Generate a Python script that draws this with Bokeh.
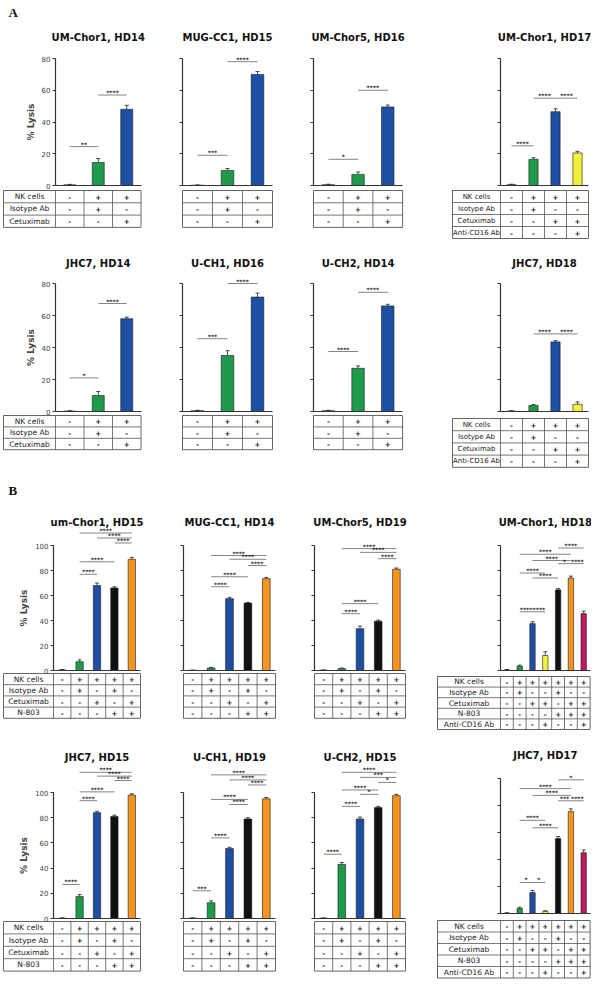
from bokeh.plotting import figure
from bokeh.models import ColumnDataSource, Whisker, TeeHead, FixedTicker, Spacer
from bokeh.layouts import row, column
from bokeh.embed import file_html
from bokeh.resources import INLINE
from bokeh.core.properties import value

# ---------------- colours ----------------
DARK = "#2b2b2b"
GREEN = "#1f9a4a"
BLUE = "#1d4fa3"
BLACK = "#111111"
ORANGE = "#f39322"
YELLOW = "#f4ee3c"
MAGENTA = "#c1175c"

COLORS_A3 = [DARK, GREEN, BLUE]
COLORS_A4 = [DARK, GREEN, BLUE, YELLOW]
COLORS_B5 = [DARK, GREEN, BLUE, BLACK, ORANGE]
COLORS_B7 = [DARK, GREEN, BLUE, YELLOW, BLACK, ORANGE, MAGENTA]

# ---------------- table definitions ----------------
LABELS_A3 = ["NK cells", "Isotype Ab", "Cetuximab"]
LABELS_A4 = ["NK cells", "Isotype Ab", "Cetuximab", "Anti-CD16 Ab"]
LABELS_B4 = ["NK cells", "Isotype Ab", "Cetuximab", "N-803"]
LABELS_B5 = ["NK cells", "Isotype Ab", "Cetuximab", "N-803", "Anti-CD16 Ab"]

SIGNS_A3 = [["-", "+", "+"], ["-", "+", "-"], ["-", "-", "+"]]
SIGNS_A4 = [["-", "+", "+", "+"], ["-", "+", "-", "-"], ["-", "-", "+", "+"], ["-", "-", "-", "+"]]
SIGNS_B4 = [["-", "+", "+", "+", "+"], ["-", "+", "-", "+", "-"], ["-", "-", "+", "-", "+"],
            ["-", "-", "-", "+", "+"]]
SIGNS_B5 = [["-", "+", "+", "+", "+", "+", "+"], ["-", "+", "-", "-", "+", "-", "-"],
            ["-", "-", "+", "+", "-", "+", "+"], ["-", "-", "-", "-", "+", "+", "+"],
            ["-", "-", "-", "+", "-", "-", "+"]]

# ---------------- panel data (% lysis) ----------------
A1_TITLES = ["UM-Chor1, HD14", "MUG-CC1, HD15", "UM-Chor5, HD16", "UM-Chor1, HD17"]
A1_VALUES = [[0.4, 14.5, 48], [0.2, 9.5, 70], [0.5, 7, 49.5], [0.5, 16.5, 46.5, 20.5]]
A1_ERRORS = [[0.3, 2.5, 2.5], [0.2, 1.2, 1.8], [0.3, 1.5, 1.2], [0.3, 1.0, 1.8, 1.0]]
A1_SIGS = [[(1, 2, 24.5, "**"), (2, 3, 57, "****")],
           [(1, 2, 19, "***"), (2, 3, 78, "****")],
           [(1, 2, 16.5, "*"), (2, 3, 60, "****")],
           [(1, 2, 25, "****"), (2, 3, 55, "****"), (3, 4, 55, "****")]]

A2_TITLES = ["JHC7, HD14", "U-CH1, HD16", "U-CH2, HD14", "JHC7, HD18"]
A2_VALUES = [[0.3, 10, 58], [0.5, 35, 71.5], [0.5, 27, 66], [0.3, 3.8, 43.5, 4.5]]
A2_ERRORS = [[0.2, 2.5, 1.0], [0.3, 3.0, 2.5], [0.3, 1.5, 1.0], [0.2, 0.5, 0.8, 1.5]]
A2_SIGS = [[(1, 2, 21, "*"), (2, 3, 67.5, "****")],
           [(1, 2, 45.5, "***"), (2, 3, 80, "****")],
           [(1, 2, 37.5, "****"), (2, 3, 74.5, "****")],
           [(2, 3, 48.5, "****"), (3, 4, 48.5, "****")]]

B1_TITLES = ["um-Chor1, HD15", "MUG-CC1, HD14", "UM-Chor5, HD19", "UM-Chor1, HD18"]
B1_VALUES = [[0.5, 7, 68, 66, 89], [0.2, 2, 57.5, 54, 73.5], [0.3, 1.5, 33.5, 39.5, 81],
             [0.5, 3.5, 37.5, 12, 64.5, 74, 45.5]]
B1_ERRORS = [[0.3, 1.5, 2.0, 1.0, 1.5], [0.1, 0.5, 1.0, 0.5, 1.0], [0.2, 0.5, 2.0, 0.8, 1.0],
             [0.3, 0.8, 1.5, 3.0, 1.0, 1.5, 2.0]]
B1_SIGS = [[(2, 3, 77, "****"), (2, 4, 87, "****"), (2, 5, 110, "****"), (3, 5, 106, "****"),
            (4, 5, 102, "****")],
           [(2, 3, 67, "****"), (2, 4, 75, "****"), (2, 5, 92, "****"), (3, 5, 89, "****"),
            (4, 5, 84, "****")],
           [(2, 3, 45.5, "****"), (2, 4, 53.5, "****"), (2, 5, 97.5, "****"), (3, 5, 94.5, "****"),
            (4, 5, 89.5, "****")],
           [(2, 3, 47, "****"), (3, 4, 47, "****"), (2, 4, 78, "****"), (3, 5, 74, "****"),
            (2, 6, 93, "****"), (3, 6, 88, "****"), (5, 6, 85.5, "*"), (6, 7, 85.5, "****"),
            (5, 7, 98, "****")]]

B2_TITLES = ["JHC7, HD15", "U-CH1, HD19", "U-CH2, HD15", "JHC7, HD17"]
B2_VALUES = [[0.3, 17.5, 84, 81, 98], [0.3, 12.5, 55.5, 79, 95], [0.3, 43, 79, 88, 97.5],
             [0.3, 3.7, 15.5, 1.5, 55.5, 75.5, 45]]
B2_ERRORS = [[0.2, 1.5, 1.0, 1.0, 1.0], [0.2, 1.5, 1.0, 1.0, 1.0], [0.2, 1.5, 1.5, 1.0, 1.0],
             [0.2, 1.0, 1.5, 0.5, 1.5, 2.0, 2.0]]
B2_SIGS = [[(1, 2, 27, "****"), (2, 3, 93.5, "****"), (2, 4, 100.5, "****"), (2, 5, 116, "****"),
            (3, 5, 113, "****"), (4, 5, 109.5, "****")],
           [(1, 2, 22, "***"), (2, 3, 64, "****"), (2, 4, 94.5, "****"), (3, 4, 90.5, "****"),
            (2, 5, 114, "****"), (3, 5, 110, "****"), (4, 5, 106, "****")],
           [(1, 2, 51, "****"), (2, 3, 89, "****"), (2, 4, 102, "****"), (3, 4, 98.5, "*"),
            (2, 5, 116, "****"), (3, 5, 112, "***"), (4, 5, 108, "*")],
           [(2, 3, 23, "*"), (3, 4, 23, "*"), (2, 4, 69, "****"), (3, 5, 63.5, "****"),
            (2, 6, 92.5, "****"), (3, 6, 87.5, "****"), (5, 6, 83.5, "***"), (6, 7, 83.5, "****"),
            (5, 7, 99, "*")]]

FONT = "DejaVu Sans"
LINE = "#555555"


def make_panel(title, vals, errs, colors, sigs, labels, signs, g, show_labels, first, letter=None):
    n = len(vals)
    col = g["col"]
    lp = g["label"] if show_labels else g["left"]
    W = int(round(lp + n * col + g["right"]))
    H = int(round(g["bot"] - g["top"]))
    s = g["scale"]
    z = g["zero"]
    x0 = 0.5 - lp / col
    x1 = x0 + W / col
    y0 = -(g["bot"] - z) / s
    y1 = (z - g["top"]) / s
    p = figure(frame_width=W, frame_height=H, x_range=(x0, x1), y_range=(y0, y1),
               output_backend="svg", toolbar_location=None, tools="", min_border=0,
               outline_line_color=None, background_fill_color="white")
    p.grid.visible = False

    ticks = list(range(0, g["ymax"] + 1, 20))
    ya = p.yaxis[0]
    ya.fixed_location = 0.5
    ya.bounds = (0, g["ymax"])
    ya.axis_line_width = 1.2
    ya.axis_line_color = "#333333"
    if first:
        ya.ticker = FixedTicker(ticks=ticks)
        ya.minor_tick_line_color = None
        ya.major_tick_out = 3
        ya.major_tick_in = 0
        ya.major_tick_line_width = 1
        ya.major_tick_line_color = "#333333"
        ya.major_label_standoff = 2
        ya.major_label_text_font = FONT
        ya.major_label_text_font_size = "7px"
        ya.axis_label = "% Lysis"
        ya.axis_label_text_font = FONT
        ya.axis_label_text_font_style = "bold"
        ya.axis_label_text_font_size = "9px"
        ya.axis_label_standoff = 3
    else:
        ya.ticker = FixedTicker(ticks=[], minor_ticks=ticks)
        ya.major_tick_line_color = None
        ya.minor_tick_out = 3
        ya.minor_tick_in = 0
        ya.minor_tick_line_width = 1
        ya.minor_tick_line_color = "#333333"

    xa = p.xaxis[0]
    xa.fixed_location = 0
    xa.bounds = (0.5, n + 0.5)
    xa.ticker = FixedTicker(ticks=[])
    xa.major_tick_line_color = None
    xa.minor_tick_line_color = None
    xa.axis_line_width = 1.2
    xa.axis_line_color = "#333333"

    xs = list(range(1, n + 1))
    src = ColumnDataSource(dict(x=xs, top=vals, hi=[v + e for v, e in zip(vals, errs)], color=colors))
    p.vbar(x="x", top="top", width=0.42, fill_color="color", line_color="#1a1a1a",
           line_width=0.6, source=src)
    p.add_layout(Whisker(base="x", lower="top", upper="hi", source=src, line_width=0.8,
                         line_color="#222222",
                         upper_head=TeeHead(size=4, line_width=0.8, line_color="#222222"),
                         lower_head=None))

    # significance brackets
    sx0 = [a for a, b, y, t in sigs]
    sx1 = [b for a, b, y, t in sigs]
    sy = [y for a, b, y, t in sigs]
    st = [t for a, b, y, t in sigs]
    p.segment(x0=sx0, y0=sy, x1=sx1, y1=sy, line_color="#666666", line_width=0.8)
    p.text(x=[(a + b) / 2 for a, b in zip(sx0, sx1)], y=sy, text=st, text_font=value(FONT),
           text_font_style="bold", text_font_size="6px", text_align="center",
           text_baseline="bottom", text_color="#222222", y_offset=1)

    # title
    p.text(x=[(n + 1) / 2], y=[(z - g["title"]) / s], text=[title], text_font=value(FONT),
           text_font_style="bold", text_font_size="10px", text_align="center",
           text_baseline="middle", text_color="#111111")
    if letter is not None:
        p.text(x=[x0 + 8 / col], y=[(z - g["letter"]) / s], text=[letter],
               text_font=value("Liberation Serif"), text_font_style="bold",
               text_font_size="13px", text_align="left", text_baseline="middle",
               text_color="#111111")

    # condition table
    tt = -(g["ttop"] - z) / s
    rh = g["row"] / s
    nr = len(labels)
    tb = tt - nr * rh
    tl = (x0 + 3.0 / col) if show_labels else 0.5
    tr = n + 0.5
    p.quad(left=[tl], right=[tr], top=[tt], bottom=[tb], fill_color=None,
           line_color=LINE, line_width=0.9)
    vx = [0.5 + k for k in range(1, n)] + ([0.5] if show_labels else [])
    p.segment(x0=vx, y0=[tt] * len(vx), x1=vx, y1=[tb] * len(vx), line_color=LINE,
              line_width=0.8)
    hy = [tt - k * rh for k in range(1, nr)]
    p.segment(x0=[tl] * len(hy), y0=hy, x1=[tr] * len(hy), y1=hy, line_color=LINE,
              line_width=0.8)
    cx, cy, ct = [], [], []
    for r in range(nr):
        for c in range(n):
            cx.append(c + 1)
            cy.append(tt - (r + 0.5) * rh)
            ct.append(signs[r][c])
    p.text(x=cx, y=cy, text=ct, text_font=value(FONT), text_font_style="bold",
           text_font_size="7px", text_align="center", text_baseline="middle",
           text_color="#222222")
    if show_labels:
        p.text(x=[(tl + 0.5) / 2] * nr, y=[tt - (r + 0.5) * rh for r in range(nr)], text=labels,
               text_font=value(FONT), text_font_size=g.get("lfont", "7px"), text_align="center",
               text_baseline="middle", text_color="#222222")
    return p


def geo(base, **kw):
    d = dict(base)
    d.update(kw)
    return d


# ----- geometry (page pixels, origin at page top-left) -----
A1V = dict(top=0, bot=246, zero=185, scale=127 / 80, title=37, letter=12, ttop=190, row=12.3, ymax=80)
A2V = dict(top=246, bot=474, zero=411, scale=1.6, title=263, ttop=415, row=11.4, ymax=80)
B1V = dict(top=474, bot=734, zero=670, scale=1.25, title=522, letter=490, ttop=673, row=11.2, ymax=100)
B2V = dict(top=734, bot=985, zero=918, scale=1.26, title=757, ttop=921, row=12.4, ymax=100)

AH = [dict(label=55, col=28.5, right=5, lfont="7.5px"), dict(left=10, col=30, right=4),
      dict(left=10, col=29.7, right=4), dict(label=51, col=22, right=3)]
BH = [dict(label=53, col=17.4, right=5, lfont="7.5px"), dict(left=10, col=18.4, right=4),
      dict(left=10, col=18.2, right=4), dict(label=66, col=12.8, right=1, lfont="7.5px")]
A_GAPS = [26, 27, 43]
B_GAPS = [28, 25, 25]


def build_row(titles, values, errors, sigs, vgeo, hgeo, gaps, kind, p4_over, letter=None):
    figs = []
    for i in range(4):
        g = geo(vgeo, **hgeo[i])
        if i == 3:
            g.update(p4_over)
        if kind == "A":
            cols = COLORS_A4 if i == 3 else COLORS_A3
            labs = LABELS_A4 if i == 3 else LABELS_A3
            sg = SIGNS_A4 if i == 3 else SIGNS_A3
        else:
            cols = COLORS_B7 if i == 3 else COLORS_B5
            labs = LABELS_B5 if i == 3 else LABELS_B4
            sg = SIGNS_B5 if i == 3 else SIGNS_B4
        figs.append(make_panel(titles[i], values[i], errors[i], cols, sigs[i], labs, sg, g,
                               show_labels=(i in (0, 3)), first=(i == 0),
                               letter=letter if i == 0 else None))
    kids = [figs[0]]
    for i in range(3):
        kids.append(Spacer(width=gaps[i], height=10))
        kids.append(figs[i + 1])
    return row(*kids)


rA1 = build_row(A1_TITLES, A1_VALUES, A1_ERRORS, A1_SIGS, A1V, AH, A_GAPS, "A",
                dict(row=12.0), letter="A")
rA2 = build_row(A2_TITLES, A2_VALUES, A2_ERRORS, A2_SIGS, A2V, AH, A_GAPS, "A",
                dict(ttop=418, row=12.2))
rB1 = build_row(B1_TITLES, B1_VALUES, B1_ERRORS, B1_SIGS, B1V, BH, B_GAPS, "B",
                dict(ttop=676, row=10.6), letter="B")
rB2 = build_row(B2_TITLES, B2_VALUES, B2_ERRORS, B2_SIGS, B2V, BH, B_GAPS, "B",
                dict(zero=913, scale=1.35, title=755, ttop=920, row=11.5))

layout = column(rA1, rA2, rB1, rB2)
open("out.html", "w").write(file_html(layout, INLINE))
